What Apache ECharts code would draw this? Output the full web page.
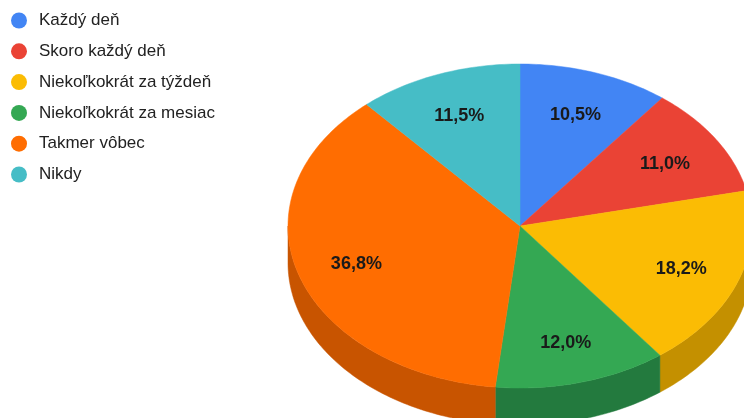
<!DOCTYPE html>
<html>
<head>
<meta charset="utf-8">
<script src="https://cdn.jsdelivr.net/npm/echarts@6/dist/echarts.min.js"></script>
<style>
html,body{margin:0;padding:0;background:#fff;}
#chart{width:744px;height:418px;}
</style>
</head>
<body>
<div id="chart"></div>
<script>
// ---- data ----
const categories = ['Každý deň', 'Skoro každý deň', 'Niekoľkokrát za týždeň', 'Niekoľkokrát za mesiac', 'Takmer vôbec', 'Nikdy'];
const values = [10.5, 11.0, 18.2, 12.0, 36.8, 11.5];

// ---- styles ----
const topColors = ['#4285f4', '#ea4335', '#fbbc04', '#34a853', '#ff6d01', '#46bdc6'];
const sideColors = ['#2f5fb0', '#a8302a', '#c49000', '#237a3e', '#c85400', '#318890'];

const geo = { cx: 520, cy: 226, rx: 232, ry: 162, depth: 37, labelF: 0.74, labelDy: 2 };

const total = values.reduce((a, b) => a + b, 0);
let acc = 0;
const sliceData = values.map((v, i) => {
  const s = acc; acc += v;
  return { name: categories[i], value: [s, acc, v, i] };
});

function pt(theta, dy) {
  return [geo.cx + geo.rx * Math.sin(theta), geo.cy - geo.ry * Math.cos(theta) + (dy || 0)];
}
function arc(t0, t1, dy) {
  const pts = [];
  const n = Math.max(2, Math.ceil((t1 - t0) / (Math.PI / 180)));
  for (let k = 0; k <= n; k++) pts.push(pt(t0 + (t1 - t0) * k / n, dy));
  return pts;
}
function toAng(p) { return p / total * Math.PI * 2; }

function renderSide(params, api) {
  const i = api.value(3);
  let t0 = toAng(api.value(0)), t1 = toAng(api.value(1));
  const a = Math.max(t0, Math.PI / 2), b = Math.min(t1, Math.PI * 1.5);
  if (b <= a) return null;
  const upper = arc(a, b, 0);
  const lower = arc(a, b, geo.depth).reverse();
  return {
    type: 'polygon',
    shape: { points: upper.concat(lower) },
    style: { fill: sideColors[i], stroke: sideColors[i], lineWidth: 0.5 }
  };
}

function renderTop(params, api) {
  const i = api.value(3);
  const t0 = toAng(api.value(0)), t1 = toAng(api.value(1));
  const pts = [[geo.cx, geo.cy]].concat(arc(t0, t1, 0));
  const mid = (t0 + t1) / 2;
  const lx = geo.cx + geo.rx * geo.labelF * Math.sin(mid);
  const ly = geo.cy - geo.ry * geo.labelF * Math.cos(mid) + geo.labelDy;
  const pct = (api.value(2) / total * 100).toFixed(1).replace('.', ',') + '%';
  return {
    type: 'group',
    children: [
      {
        type: 'polygon',
        shape: { points: pts },
        style: { fill: topColors[i], stroke: topColors[i], lineWidth: 0.5 },
        z2: 1
      },
      {
        type: 'text',
        x: lx, y: ly,
        style: {
          text: pct, fill: '#1a1a1a', font: 'bold 18px "Liberation Sans", Arial, sans-serif',
          align: 'center', verticalAlign: 'middle'
        },
        z2: 5
      }
    ]
  };
}

const chart = echarts.init(document.getElementById('chart'), null, { renderer: 'canvas' });
chart.setOption({
  animation: false,
  color: topColors,
  legend: {
    orient: 'vertical',
    left: 6, top: 7,
    padding: 5,
    icon: 'circle',
    itemWidth: 16, itemHeight: 16,
    itemGap: 13.8,
    selectedMode: false,
    data: categories,
    textStyle: { fontSize: 17, color: '#222', fontFamily: '"Liberation Sans", Arial, sans-serif', padding: [0, 0, 0, 7] }
  },
  series: [
    {
      name: 'legendHolder', type: 'pie', radius: [0, 0], center: [-100, -100],
      label: { show: false }, labelLine: { show: false }, silent: true,
      data: categories.map((c, i) => ({ name: c, value: values[i] }))
    },
    {
      type: 'custom', coordinateSystem: 'none', z: 2, silent: true,
      renderItem: renderSide, data: sliceData
    },
    {
      type: 'custom', coordinateSystem: 'none', z: 3, silent: true,
      renderItem: renderTop, data: sliceData
    }
  ]
});
</script>
</body>
</html>
